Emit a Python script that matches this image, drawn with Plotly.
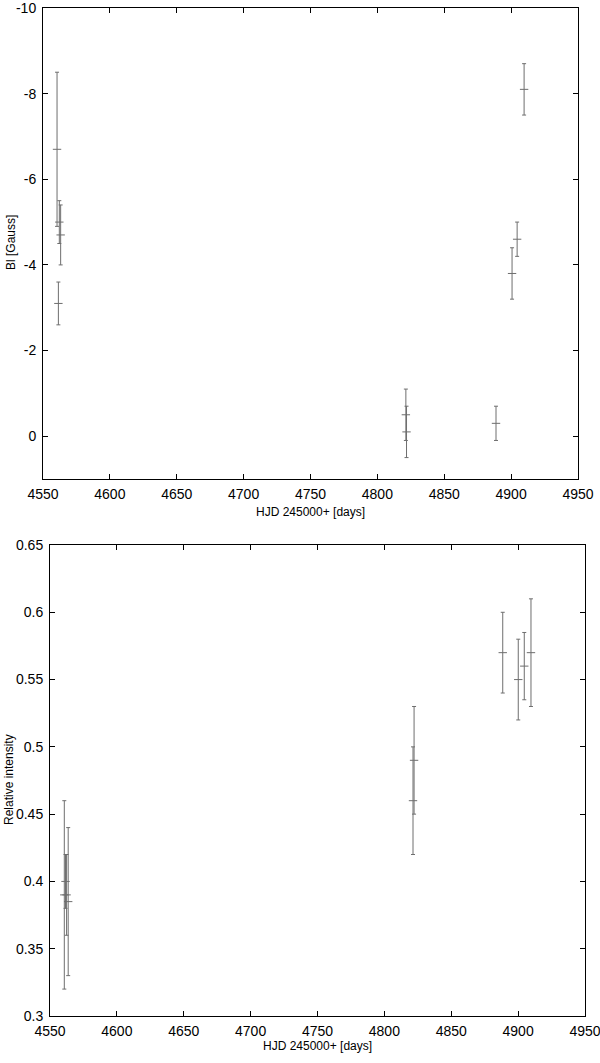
import plotly.graph_objects as go

# top panel: longitudinal field
hjd_bl = [4560.5, 4561.5, 4562.2, 4563.2, 4821.3, 4821.8, 4888.7, 4900.7, 4904.5, 4909.7]
bl = [-6.7, -3.1, -5.0, -4.7, -0.5, -0.1, -0.3, -3.8, -4.6, -8.1]
bl_err = [1.8, 0.5, 0.5, 0.7, 0.6, 0.6, 0.4, 0.6, 0.4, 0.6]

# bottom panel: relative intensity
hjd_ri = [4560.7, 4561.6, 4562.4, 4563.6, 4821.4, 4822.2, 4888.5, 4900.1, 4904.6, 4909.6]
ri = [0.39, 0.40, 0.39, 0.385, 0.46, 0.49, 0.57, 0.55, 0.56, 0.57]
ri_err = [0.07, 0.02, 0.03, 0.055, 0.04, 0.04, 0.03, 0.03, 0.025, 0.04]

x_ticks = [4550, 4600, 4650, 4700, 4750, 4800, 4850, 4900, 4950]
bl_ticks = [-10, -8, -6, -4, -2, 0]
ri_ticks = [0.3, 0.35, 0.4, 0.45, 0.5, 0.55, 0.6, 0.65]

W, H = 600, 1063
bar_col = "#6e6e6e"
font = "Liberation Sans Narrow, Liberation Sans, Arial, sans-serif"


def px_x(v):
    return v / W


def px_y(v):
    return 1 - v / H


fig = go.Figure()
for x, y, e, xa, ya in [(hjd_bl, bl, bl_err, "x", "y"), (hjd_ri, ri, ri_err, "x2", "y2")]:
    fig.add_trace(go.Scatter(
        x=x, y=y, mode="markers", xaxis=xa, yaxis=ya,
        marker=dict(symbol="line-ew", size=6, color=bar_col, line=dict(width=1, color=bar_col)),
        error_y=dict(type="data", array=e, visible=True, color=bar_col, thickness=1, width=2),
        showlegend=False, hoverinfo="skip"))

ax = dict(showline=True, linecolor="black", linewidth=1, mirror="ticks", ticks="inside",
          ticklen=5, tickcolor="black", showgrid=False, zeroline=False, automargin=False,
          ticklabeloverflow="allow", tickfont=dict(family=font, size=14, color="black"))
xax = dict(ax, range=[4550, 4950], tickvals=x_ticks, ticklabelstandoff=2)

fig.update_layout(
    width=W, height=H, margin=dict(l=0, r=0, t=0, b=0),
    plot_bgcolor="white", paper_bgcolor="white",
    xaxis=dict(xax, domain=[px_x(43), px_x(578)], anchor="y"),
    yaxis=dict(ax, domain=[px_y(479), px_y(8)], range=[1, -10], tickvals=bl_ticks,
               ticktext=[str(v) for v in bl_ticks], ticklabelstandoff=3, anchor="x"),
    xaxis2=dict(xax, domain=[px_x(50), px_x(585)], anchor="y2"),
    yaxis2=dict(ax, domain=[px_y(1016), px_y(545)], range=[0.3, 0.65], tickvals=ri_ticks,
                ticktext=[f"{v:g}" for v in ri_ticks], ticklabelstandoff=3, anchor="x2"),
)

tfont = dict(family="Liberation Sans, Arial, sans-serif", size=12, color="black")
titles = [
    ("HJD 245000+ [days]", 310, 512, 0),
    ("Bl [Gauss]", 11, 243, -90),
    ("HJD 245000+ [days]", 317, 1046, 0),
    ("Relative intensity", 9, 780, -90),
]
for txt, tx, ty, ang in titles:
    fig.add_annotation(text=txt, x=px_x(tx), y=px_y(ty), xref="paper", yref="paper",
                       xanchor="center", yanchor="middle", showarrow=False,
                       textangle=ang, font=tfont)

# the page body normally has an 8px margin; drop it so the figure sits at the corner
fig.write_html("out.html", config={"displayModeBar": False},
               post_script="document.body.style.margin='0';")
